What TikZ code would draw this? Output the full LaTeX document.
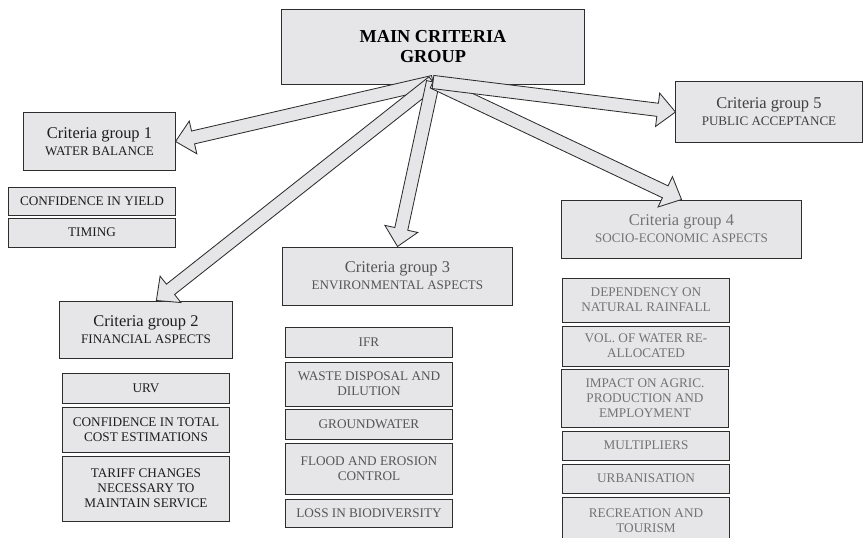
\documentclass[tikz,border=0pt]{standalone}
\usepackage{fontspec}
\setmainfont{Liberation Serif}
\usetikzlibrary{calc}
\usepackage{xcolor}

\definecolor{boxfill}{RGB}{230,230,232}
\definecolor{boxline}{RGB}{45,45,45}
\definecolor{txtdark}{RGB}{30,30,30}
\definecolor{txtmid}{RGB}{85,85,85}
\definecolor{txtlight}{RGB}{115,115,115}

% 组标题:两行,上大下小
\newcommand{\grouplabel}[2]{{\fontsize{11.7}{11.4}\selectfont #1}\\{\fontsize{9.3}{11.4}\selectfont #2}}
% 空心粗箭头:从 #1 指向 #2
\newcommand{\fatarrow}[2]{%
  \coordinate (fa-s) at ($(#2)!0.45cm!(#1)$);
  \draw[fatarrow] ($(#1)!0.165cm!90:(#2)$) -- ($(fa-s)!0.165cm!-90:(#1)$)
    -- ($(fa-s)!0.42cm!-90:(#1)$) -- (#2) -- ($(fa-s)!0.42cm!90:(#1)$)
    -- ($(fa-s)!0.165cm!90:(#1)$) -- ($(#1)!0.165cm!-90:(#2)$) -- cycle;
}

\begin{document}
\begin{tikzpicture}[x=0.025cm, y=-0.025cm]
        % ================= 样式定义 =================
        \tikzset{
            % 顶部主框
            mainbox/.style={draw=boxline, line width=0.7pt, fill=boxfill, align=center, inner sep=0pt,
                minimum width=7.55cm, minimum height=1.85cm, font=\fontsize{13}{14.2}\selectfont\bfseries},
            % 各组的框
            groupbox/.style={draw=boxline, line width=0.7pt, fill=boxfill, align=center, inner sep=0pt},
            % 组下面的条目
            itembox/.style={draw=boxline, line width=0.7pt, fill=boxfill, align=center, inner sep=0pt,
                minimum width=4.15cm, font=\fontsize{9.4}{10.7}\selectfont},
            % 空心箭头
            fatarrow/.style={draw=boxline, line width=0.6pt, fill=boxfill, line join=miter}
        }

        \useasboundingbox (0,0) rectangle (868,538);

        % ================= 1. 主框与各组 =================
        \node[mainbox, text=black] (main) at (433,47) {MAIN CRITERIA\\GROUP};

        \node[groupbox, text=txtdark, minimum width=3.775cm, minimum height=1.425cm] (g1) at (99.5,141.5)
            {\grouplabel{Criteria group 1}{WATER BALANCE}};
        \node[groupbox, text=txtdark, minimum width=4.3cm, minimum height=1.425cm] (g2) at (146,329.5)
            {\grouplabel{Criteria group 2}{FINANCIAL ASPECTS}};
        \node[groupbox, text=txtmid, minimum width=5.725cm, minimum height=1.45cm] (g3) at (397.5,276)
            {\grouplabel{Criteria group 3}{ENVIRONMENTAL ASPECTS}};
        \node[groupbox, text=txtlight, minimum width=5.975cm, minimum height=1.45cm] (g4) at (681.5,229)
            {\grouplabel{Criteria group 4}{SOCIO-ECONOMIC ASPECTS}};
        \node[groupbox, text=txtdark!85, minimum width=4.65cm, minimum height=1.5cm] (g5) at (769,112)
            {\grouplabel{Criteria group 5}{PUBLIC ACCEPTANCE}};

        % ================= 2. 各组条目 =================
        % --- 组 1 ---
        \node[itembox, text=txtdark, minimum height=0.7cm] (g1a) at (92,201) {CONFIDENCE IN YIELD};
        \node[itembox, text=txtdark, minimum height=0.725cm] (g1b) at (92,232.5) {TIMING};

        % --- 组 2 ---
        \node[itembox, text=txtdark, minimum height=0.75cm] (g2a) at (146,388) {URV};
        \node[itembox, text=txtdark, minimum height=1.125cm] (g2b) at (146,429.5) {CONFIDENCE IN TOTAL\\COST ESTIMATIONS};
        \node[itembox, text=txtdark, minimum height=1.625cm] (g2c) at (146,488.5) {TARIFF CHANGES\\NECESSARY TO\\MAINTAIN SERVICE};

        % --- 组 3 ---
        \node[itembox, text=txtmid, minimum height=0.75cm] (g3a) at (369,342) {IFR};
        \node[itembox, text=txtmid, minimum height=1.1cm] (g3b) at (369,384) {WASTE DISPOSAL AND\\DILUTION};
        \node[itembox, text=txtmid, minimum height=0.75cm] (g3c) at (369,424) {GROUNDWATER};
        \node[itembox, text=txtmid, minimum height=1.275cm] (g3d) at (369,468.5) {FLOOD AND EROSION\\CONTROL};
        \node[itembox, text=txtmid, minimum height=0.7cm] (g3e) at (369,513) {LOSS IN BIODIVERSITY};

        % --- 组 4 ---
        \node[itembox, text=txtlight, minimum height=1.1cm] (g4a) at (646,300) {DEPENDENCY ON\\NATURAL RAINFALL};
        \node[itembox, text=txtlight, minimum height=1.0cm] (g4b) at (646,346) {VOL. OF WATER RE-\\ALLOCATED};
        \node[itembox, text=txtlight, minimum height=1.45cm] (g4c) at (645,398) {IMPACT ON AGRIC.\\PRODUCTION AND\\EMPLOYMENT};
        \node[itembox, text=txtlight, minimum height=0.725cm] (g4d) at (646,445.5) {MULTIPLIERS};
        \node[itembox, text=txtlight, minimum height=0.725cm] (g4e) at (646,478.5) {URBANISATION};
        \node[itembox, text=txtlight, minimum height=1.2cm] (g4f) at (646,521) {RECREATION AND\\TOURISM};

        % ================= 3. 空心箭头 =================
        \coordinate (hub) at (433,82);
        \coordinate (g2tip) at ($(g2.north west)!0.56!(g2.north east)$);
        \fatarrow{hub}{g1.east}
        \fatarrow{hub}{g2tip}
        \fatarrow{hub}{g3.north}
        \fatarrow{hub}{g4.north}
        \fatarrow{hub}{g5.west}

    \end{tikzpicture}
\end{document}
